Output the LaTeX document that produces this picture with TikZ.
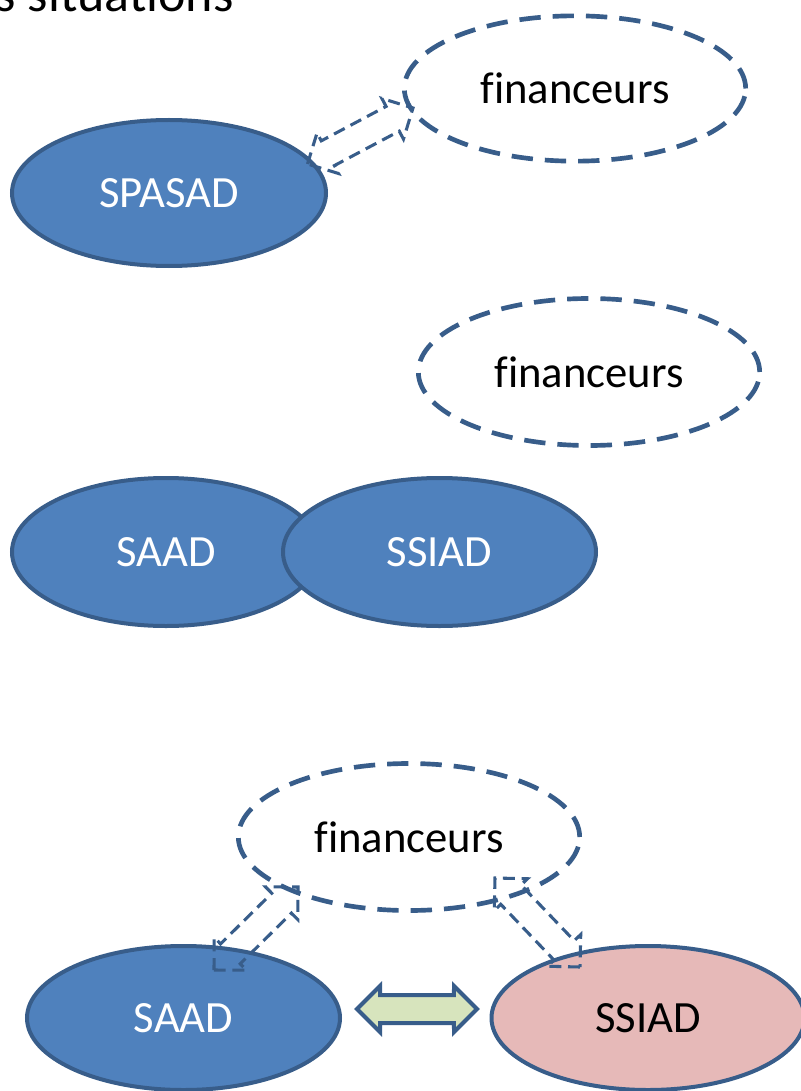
\documentclass[tikz,border=0pt]{standalone}
\usepackage{fontspec}
\setmainfont{Carlito}[Ligatures=NoCommon]
\usetikzlibrary{shapes.geometric,calc}
\definecolor{bordc}{HTML}{385D8A}
\definecolor{blueF}{HTML}{4F81BD}
\definecolor{pinkF}{HTML}{E6B9B8}
\definecolor{greenF}{HTML}{D7E4BD}
\newcommand\blockarrow[3]{%
 \draw[#1] (#2) -- ($(#2)!24.4pt!45:(#3)$) -- ($(#2)!20.2pt!31.3:(#3)$) -- ($(#3)!20.2pt!-31.3:(#2)$) -- ($(#3)!24.4pt!-45:(#2)$) -- (#3) -- ($(#3)!24.4pt!45:(#2)$) -- ($(#3)!20.2pt!31.3:(#2)$) -- ($(#2)!20.2pt!-31.3:(#3)$) -- ($(#2)!24.4pt!-45:(#3)$) -- cycle;}
\tikzset{
  fin/.style={ellipse, draw=bordc, line width=3.5pt, dash pattern=on 16pt off 9pt, text=black, inner sep=0pt,
    minimum width=256pt, minimum height=109pt, font=\fontsize{33.5}{40}\selectfont},
  org/.style={ellipse, draw=bordc, line width=3pt, fill=blueF, text=white, inner sep=0pt,
    font=\fontsize{33.5}{40}\selectfont},
  dashedarrow/.style={draw=bordc, line width=2.3pt, dash pattern=on 9pt off 5pt, line join=miter},
  greenarrow/.style={draw=bordc, line width=3pt, fill=greenF, line join=miter},
}
\begin{document}
\begin{tikzpicture}[x=0.75pt,y=-0.75pt]
\useasboundingbox (0,0) rectangle (800,1091);
\fill[white] (0,0) rectangle (800,1091);
\node[anchor=base east, inner sep=0pt, font=\fontsize{39}{46}\selectfont] (title) at (234,11.5) {s situations};
% situation 1
\node[fin] (fin1) at (575,88.5) {financeurs};
\node[org, minimum width=235.5pt, minimum height=109.5pt] (spasad) at (169,193) {SPASAD};
% situation 2
\node[fin, minimum height=110.25pt] (fin2) at (589,372) {financeurs};
\node[org, minimum width=231pt, minimum height=111pt] (saad1) at (166,552) {SAAD};
\node[org, minimum width=234.75pt, minimum height=111pt] (ssiad1) at (439.5,552) {SSIAD};
% situation 3
\node[fin, minimum height=110.25pt] (fin3) at (409,837) {financeurs};
\node[org, minimum width=234.75pt, minimum height=108pt] (saad2) at (183.5,1018) {SAAD};
\node[org, fill=pinkF, text=black, minimum width=234.75pt, minimum height=108pt] (ssiad2) at (648,1018) {SSIAD};
% arrows
\coordinate (a1s) at (307.5,164);
\coordinate (a1e) at (413,108);
\blockarrow{dashedarrow}{a1s}{a1e}
\coordinate (a2s) at (214,970);
\coordinate (a2e) at (298,887);
\blockarrow{dashedarrow}{a2s}{a2e}
\coordinate (a3s) at (580,967);
\coordinate (a3e) at (495,878);
\blockarrow{dashedarrow}{a3s}{a3e}
\coordinate (g1) at (357,1009);
\coordinate (g2) at (477,1009);
\blockarrow{greenarrow}{g1}{g2}
\end{tikzpicture}
\end{document}
